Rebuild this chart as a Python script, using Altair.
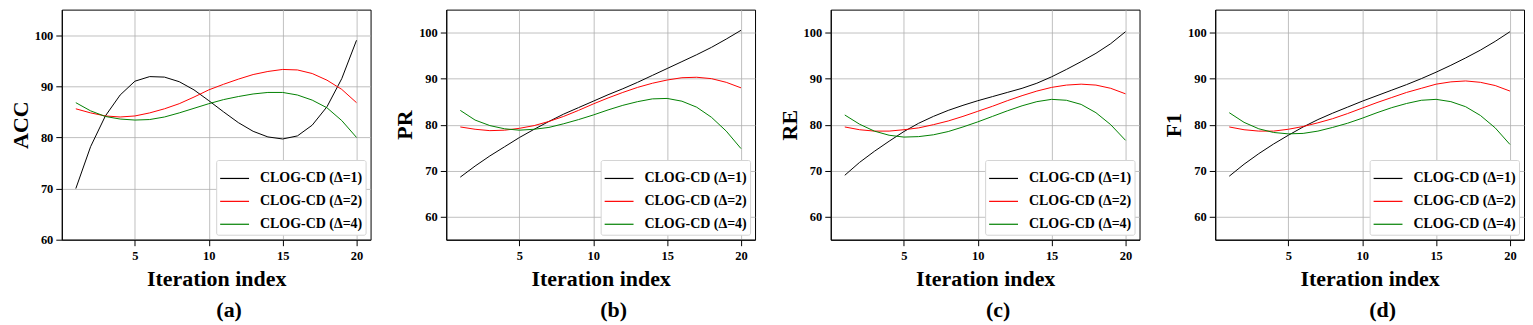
import altair as alt
import pandas as pd

iters = list(range(1, 21))
series_names = ["CLOG-CD (Δ=1)", "CLOG-CD (Δ=2)", "CLOG-CD (Δ=4)"]
colors = ["black", "red", "green"]

acc_d1 = [70.0, 78.2, 84.2, 88.3, 91.0, 91.9, 91.8, 90.9, 89.3, 87.2, 85.0, 82.9, 81.2, 80.1, 79.7, 80.3, 82.4, 86.0, 91.5, 99.0]
acc_d2 = [85.6, 84.8, 84.2, 84.0, 84.2, 84.8, 85.6, 86.6, 87.9, 89.3, 90.4, 91.4, 92.3, 92.9, 93.3, 93.2, 92.5, 91.2, 89.4, 86.8]
acc_d4 = [86.8, 85.2, 84.1, 83.6, 83.4, 83.5, 84.0, 84.8, 85.7, 86.6, 87.4, 88.0, 88.5, 88.8, 88.8, 88.3, 87.3, 85.8, 83.3, 80.0]

pr_d1 = [68.6, 71.0, 73.2, 75.2, 77.2, 79.0, 80.7, 82.3, 83.7, 85.1, 86.5, 87.8, 89.2, 90.7, 92.2, 93.7, 95.2, 96.8, 98.6, 100.5]
pr_d2 = [79.5, 79.0, 78.7, 78.8, 79.2, 79.8, 80.7, 81.8, 83.1, 84.5, 85.8, 87.0, 88.1, 89.0, 89.7, 90.2, 90.3, 90.0, 89.2, 88.0]
pr_d4 = [83.1, 81.0, 79.8, 79.1, 78.8, 79.0, 79.4, 80.2, 81.1, 82.1, 83.2, 84.2, 85.0, 85.6, 85.7, 85.1, 83.8, 81.6, 78.6, 74.8]

re_d1 = [69.0, 71.8, 74.2, 76.4, 78.5, 80.3, 81.8, 83.1, 84.2, 85.2, 86.1, 87.0, 87.9, 89.0, 90.4, 92.0, 93.7, 95.5, 97.6, 100.2]
re_d2 = [79.5, 78.9, 78.6, 78.6, 78.9, 79.3, 80.0, 80.8, 81.8, 82.9, 84.0, 85.2, 86.3, 87.3, 88.1, 88.6, 88.8, 88.6, 87.9, 86.7]
re_d4 = [82.1, 80.1, 78.6, 77.7, 77.3, 77.4, 77.8, 78.5, 79.5, 80.6, 81.8, 83.0, 84.1, 85.0, 85.5, 85.3, 84.4, 82.6, 80.0, 76.6]

f1_d1 = [68.8, 71.4, 73.7, 75.8, 77.7, 79.5, 81.1, 82.5, 83.8, 85.1, 86.3, 87.5, 88.7, 90.0, 91.4, 92.9, 94.5, 96.2, 98.1, 100.2]
f1_d2 = [79.5, 78.9, 78.6, 78.6, 79.0, 79.6, 80.4, 81.3, 82.4, 83.6, 84.8, 85.9, 87.0, 87.9, 88.8, 89.3, 89.5, 89.2, 88.5, 87.3]
f1_d4 = [82.6, 80.5, 79.1, 78.3, 78.0, 78.1, 78.6, 79.4, 80.3, 81.4, 82.6, 83.7, 84.6, 85.3, 85.5, 85.0, 83.9, 82.0, 79.3, 75.7]

metrics = ["ACC", "PR", "RE", "F1"]
captions = ["(a)", "(b)", "(c)", "(d)"]
y_mins = [60, 55, 55, 55]
all_vals = [
    [acc_d1, acc_d2, acc_d4],
    [pr_d1, pr_d2, pr_d4],
    [re_d1, re_d2, re_d4],
    [f1_d1, f1_d2, f1_d4],
]
x_ticks = [5, 10, 15, 20]
y_ticks = [60, 70, 80, 90, 100]

FONT = "Liberation Serif"


def panel(metric, vals, ymin, cap):
    rows = []
    for name, v in zip(series_names, vals):
        for i, y in zip(iters, v):
            rows.append({"it": i, "val": y, "series": name})
    df = pd.DataFrame(rows)
    title = alt.TitleParams(
        cap, orient="bottom", anchor="middle", frame="group",
        font=FONT, fontSize=22, fontWeight="bold", color="black",
        offset=11, dx=13,
    )
    return alt.Chart(df, title=title).mark_line(strokeWidth=1, clip=True).encode(
        x=alt.X("it:Q",
                scale=alt.Scale(domain=[0.05, 20.95], nice=False, zero=False),
                axis=alt.Axis(values=x_ticks, title="Iteration index",
                              titleFontSize=22, titlePadding=6,
                              tickSize=6, labelPadding=4)),
        y=alt.Y("val:Q",
                scale=alt.Scale(domain=[ymin, 105], nice=False, zero=False),
                axis=alt.Axis(values=y_ticks, title=metric,
                              titleFontSize=22, titlePadding=2,
                              tickSize=6, labelPadding=3)),
        color=alt.Color("series:N",
                        scale=alt.Scale(domain=series_names, range=colors),
                        legend=alt.Legend(
                            title=None, orient="bottom-right", offset=5,
                            fillColor="white", strokeColor="#d4d4d4",
                            cornerRadius=2, padding=3,
                            symbolType="stroke", symbolSize=841,
                            symbolStrokeWidth=1.2,
                            labelFont=FONT, labelFontSize=14,
                            labelFontWeight="bold", labelColor="black",
                            labelOffset=10, rowPadding=-3, labelLimit=0,
                        )),
    ).properties(width=310, height=231)


panels = [panel(m, v, ym, c) for m, v, ym, c in zip(metrics, all_vals, y_mins, captions)]

chart = alt.hconcat(*panels, spacing=21).resolve_scale(
    x="independent", y="independent", color="independent"
).resolve_legend(color="independent").properties(
    padding=0
).configure_axis(
    grid=True, gridColor="#b0b0b0", gridWidth=0.8,
    domainColor="black", domainWidth=1, tickColor="black", tickWidth=1,
    labelFont=FONT, labelFontSize=12.5, labelFontWeight="bold", labelColor="black",
    titleFont=FONT, titleFontWeight="bold", titleColor="black",
).configure_view(stroke="black", strokeWidth=1)

chart.save("out.html", embed_options={"renderer": "svg", "actions": False})
